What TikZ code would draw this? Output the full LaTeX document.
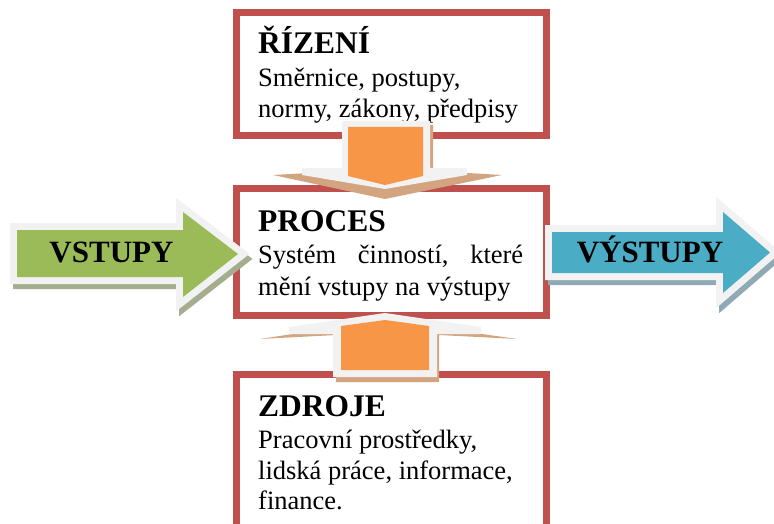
\documentclass[tikz,border=0pt]{standalone}
\usepackage{fontspec}
\setmainfont{Liberation Serif}
\definecolor{boxred}{HTML}{C0504D}
\definecolor{ingreen}{HTML}{9BBB59}
\definecolor{outblue}{HTML}{4BACC6}
\definecolor{flow}{HTML}{F79646}
\definecolor{rim}{HTML}{F2F2F2}
\definecolor{greenshade}{HTML}{A4AE8E}
\definecolor{blueshade}{HTML}{8FAAB4}
\definecolor{flowshade}{HTML}{D2A47F}
\begin{document}
\begin{tikzpicture}[x=1pt,y=-1pt,
  frame/.style={draw=boxred, line width=7pt, fill=white, inner sep=0pt, outer sep=0pt, minimum width=310.5pt},
  head/.style={anchor=base west, inner sep=0pt, font=\fontsize{31.5}{36}\selectfont\bfseries},
  body/.style={anchor=base west, inner sep=0pt, font=\fontsize{26.5}{31}\selectfont},
  label/.style={anchor=base, inner sep=0pt, font=\fontsize{31}{36}\selectfont\bfseries},
  rimline/.style={draw=rim, fill=rim, line width=14pt, line join=miter},
  shade/.style={line width=14pt, line join=miter}]
\useasboundingbox (0,0) rectangle (774,524);
\clip (0,0) rectangle (774,524);

% the three boxes
\node[frame, minimum height=123pt] (rizeni) at (391.25,74.5) {};
\node[frame, minimum height=127pt] (proces) at (391.25,252) {};
\node[frame, minimum height=190pt] (zdroje) at (391.25,469) {};

% box texts
\node[head] (rizT) at (258,54) {ŘÍZENÍ};
\node[body] (riz1) at (258,87) {Směrnice, postupy,};
\node[body] (riz2) at (258,118) {normy, zákony, předpisy};

\node[head] (proT) at (258,231) {PROCES};
\node[body] (pro1) at (258,263) {\hbox to 265pt{Systém\hfill činností,\hfill které}};
\node[body] (pro2) at (258,295) {mění vstupy na výstupy};

\node[head] (zdrT) at (258,416) {ZDROJE};
\node[body] (zdr1) at (258,448) {Pracovní prostředky,};
\node[body] (zdr2) at (258,479) {lidská práce, informace,};
\node[body] (zdr3) at (258,509) {finance.};

% input arrow
\def\inarrow{(17,230) -- (183,230) -- (183,212) -- (238,254) -- (183,297) -- (183,277) -- (17,277) -- cycle}
\path[shade, draw=greenshade, fill=greenshade, shift={(3,5)}] \inarrow;
\path[rimline] \inarrow;
\fill[ingreen] \inarrow;
\node[label] (vstupy) at (111.5,262) {VSTUPY};

% output arrow
\def\outarrow{(552,232) -- (723,232) -- (723,212) -- (770,252.5) -- (723,293) -- (723,273) -- (552,273) -- cycle}
\path[shade, draw=blueshade, fill=blueshade, shift={(3,5)}] \outarrow;
\path[rimline] \outarrow;
\fill[outblue] \outarrow;
\node[label] (vystupy) at (650,262) {VÝSTUPY};

% control arrow (down)
\fill[flowshade] (345,125) -- (433,125) -- (433,171) -- (502,175) -- (385,199) -- (273,175) -- (345,171) -- cycle;
\fill[rim] (342,121) -- (430,121) -- (430,168) -- (467,168) -- (467,175) -- (385,189) -- (302,175) -- (302,168) -- (342,168) -- cycle;
\fill[flow] (348,127) -- (423,127) -- (423,176) -- (385,185) -- (348,176) -- cycle;

% resources arrow (up)
\fill[flowshade] (260,339) -- (336,335) -- (336,382) -- (439,382) -- (439,335) -- (517,339) -- (385,320) -- cycle;
\fill[rim] (385,313) -- (481,327) -- (481,334) -- (437,334) -- (437,377) -- (333,377) -- (333,334) -- (289,334) -- (289,327) -- cycle;
\fill[flow] (341,370) -- (429,370) -- (429,326) -- (385,320) -- (341,326) -- cycle;
\end{tikzpicture}
\end{document}
